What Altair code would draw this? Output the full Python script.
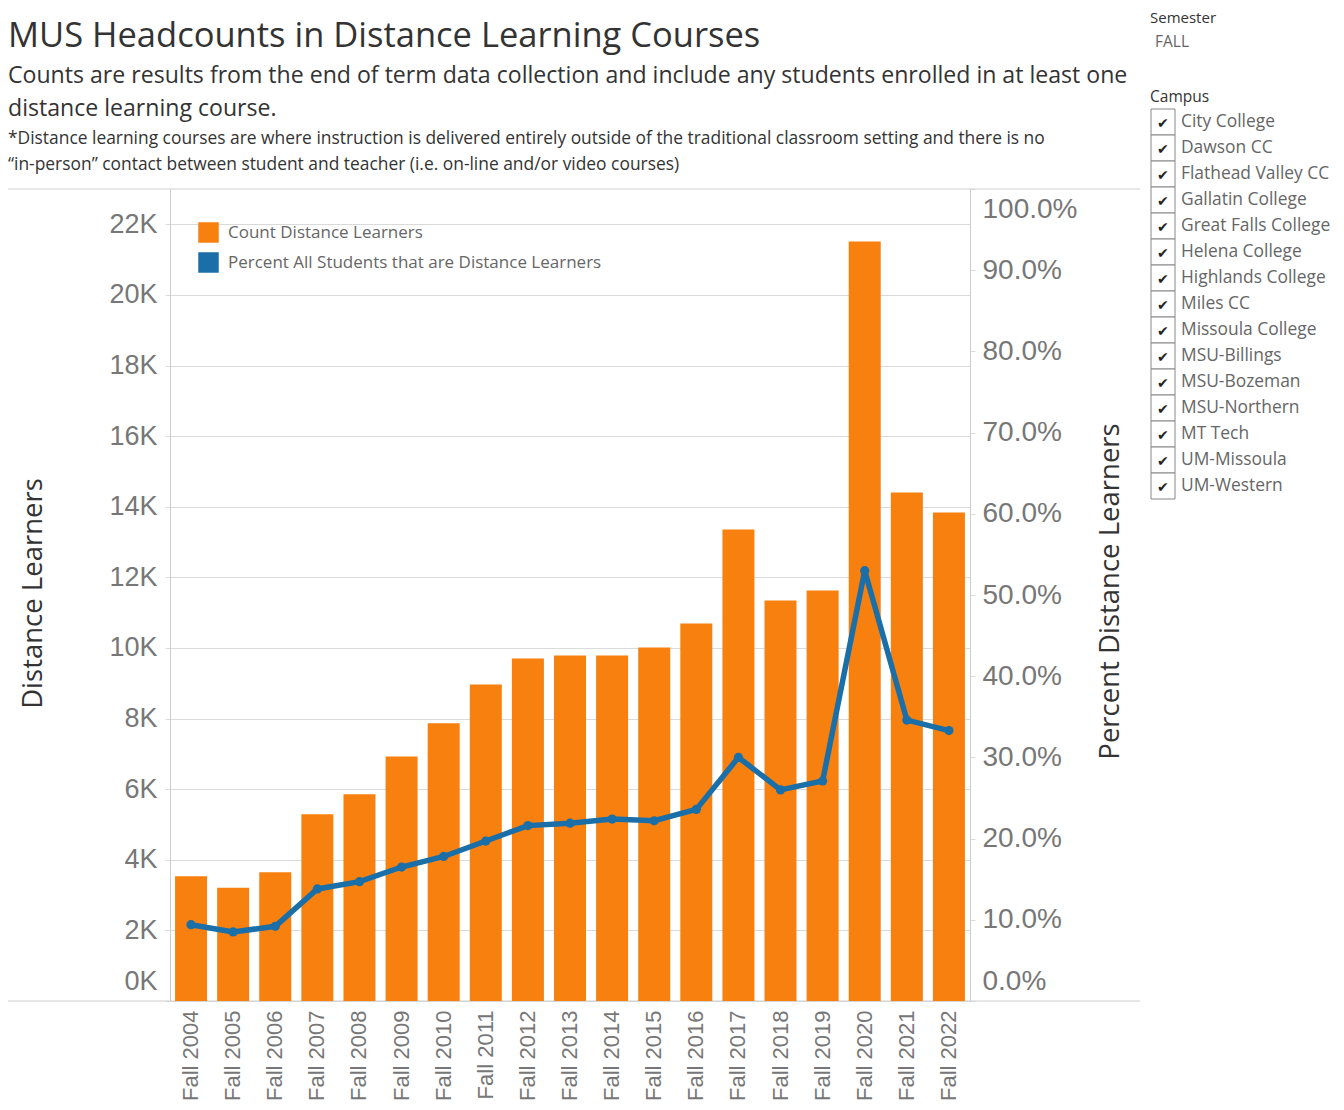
import altair as alt
import pandas as pd

# ---------------- data ----------------
semesters = ["Fall 2004", "Fall 2005", "Fall 2006", "Fall 2007", "Fall 2008", "Fall 2009",
             "Fall 2010", "Fall 2011", "Fall 2012", "Fall 2013", "Fall 2014", "Fall 2015",
             "Fall 2016", "Fall 2017", "Fall 2018", "Fall 2019", "Fall 2020", "Fall 2021",
             "Fall 2022"]
counts = [3535, 3207, 3649, 5292, 5858, 6926, 7870, 8966, 9703, 9788, 9788, 10014,
          10694, 13357, 11346, 11629, 21515, 14405, 13839]
percents = [0.094, 0.085, 0.092, 0.138, 0.147, 0.165, 0.178, 0.197, 0.216, 0.219, 0.224,
            0.222, 0.236, 0.300, 0.260, 0.271, 0.530, 0.346, 0.333]
series = ["Count Distance Learners", "Percent All Students that are Distance Learners"]
left_ticks = list(range(0, 22001, 2000))
right_ticks = [0.0, 0.1, 0.2, 0.3, 0.4, 0.5, 0.6, 0.7, 0.8, 0.9, 1.0]
campuses = ["City College", "Dawson CC", "Flathead Valley CC", "Gallatin College",
            "Great Falls College", "Helena College", "Highlands College", "Miles CC",
            "Missoula College", "MSU-Billings", "MSU-Bozeman", "MSU-Northern", "MT Tech",
            "UM-Missoula", "UM-Western"]

title_text = "MUS Headcounts in Distance Learning Courses"
subtitle_lines = ["Counts are results from the end of term data collection and include any students enrolled in at least one",
                  "distance learning course."]
note_lines = ["*Distance learning courses are where instruction is delivered entirely outside of the traditional classroom setting and there is no",
              "\u201cin-person\u201d contact between student and teacher (i.e. on-line and/or video courses)"]
semester_filter = ["Semester", "FALL"]
campus_label = "Campus"

# ---------------- style ----------------
ORANGE = "#F8800F"
BLUE = "#1A6FA8"
GRID = "#DADADA"
X0, Y0 = 170, 189          # page position of plot origin
W, H = 800, 812
TXT_FONT = "Open Sans"
TICK_FONT = "Liberation Sans"

df = pd.DataFrame({"Semester": semesters, "Count": counts, "Percent": percents})
base = alt.Chart(df)

x_enc = alt.X("Semester:N", sort=semesters, title=None,
              scale=alt.Scale(paddingInner=0.24, paddingOuter=0.12),
              axis=alt.Axis(labelAngle=270, labelFontSize=22, labelColor="#777",
                            labelFont=TICK_FONT, ticks=False, domain=False,
                            labelPadding=9, labelLimit=200))

bars = base.mark_bar(color=ORANGE).transform_calculate(
    Series=f"'{series[0]}'"
).encode(
    x=x_enc,
    y=alt.Y("Count:Q", scale=alt.Scale(domain=[0, 23000], nice=False),
            axis=alt.Axis(values=left_ticks, labelExpr="datum.value / 1000 + 'K'",
                          labelFontSize=27, labelFont=TICK_FONT, labelColor="#777",
                          labelPadding=8, tickSize=5, tickColor=GRID,
                          grid=True, gridColor=GRID, domainColor="#cccccc",
                          labelFlush=True, labelFlushOffset=-6,
                          title="Distance Learners", titleFont=TXT_FONT, titleFontSize=27.5,
                          titleFontWeight="normal", titleColor="#333",
                          titleAngle=270, titleAlign="center", titleBaseline="middle",
                          titleX=-137, titleY=H / 2 - 2)),
    color=alt.Color("Series:N",
                    scale=alt.Scale(domain=series, range=[ORANGE, BLUE]),
                    legend=alt.Legend(title=None, orient="none", legendX=28, legendY=33,
                                      symbolType="square", symbolSize=420,
                                      symbolStrokeWidth=0, labelFontSize=17,
                                      labelFont=TXT_FONT, labelColor="#666",
                                      labelOffset=9, rowPadding=9, padding=0,
                                      labelLimit=600)),
)

line = base.mark_line(color=BLUE, strokeWidth=5.5,
                      point=alt.OverlayMarkDef(color=BLUE, filled=True, size=85)).encode(
    x=alt.X("Semester:N", sort=semesters),
    y=alt.Y("Percent:Q", scale=alt.Scale(domain=[0, 1], nice=False),
            axis=alt.Axis(orient="right", values=right_ticks, format=".1%",
                          labelFontSize=28, labelFont=TICK_FONT, labelColor="#777",
                          labelPadding=7, tickSize=5, tickColor=GRID, grid=False,
                          domainColor="#cccccc", labelFlush=True, labelFlushOffset=-6,
                          title="Percent Distance Learners", titleFont=TXT_FONT,
                          titleFontSize=27.5, titleFontWeight="normal", titleColor="#333",
                          titleAngle=270, titleAlign="center", titleBaseline="middle",
                          titleX=140, titleY=H / 2 - 4)),
)


def txt(s, px, py, size, color="#333", font=TXT_FONT, weight="normal", baseline="alphabetic"):
    return alt.Chart(pd.DataFrame({"t": [s]})).mark_text(
        align="left", baseline=baseline, fontSize=size, color=color, font=font,
        fontWeight=weight).encode(text="t:N", x=alt.value(px - X0), y=alt.value(py - Y0))


def hrule(py, px1, px2, color="#cfcfcf"):
    return alt.Chart(pd.DataFrame({"a": [0]})).mark_rule(color=color, strokeWidth=1).encode(
        x=alt.value(px1 - X0), x2=alt.value(px2 - X0), y=alt.value(py - Y0))


def box(px1, py1, px2, py2):
    return alt.Chart(pd.DataFrame({"a": [0]})).mark_rect(
        fill="white", stroke="#888", strokeWidth=1).encode(
        x=alt.value(px1 - X0), x2=alt.value(px2 - X0),
        y=alt.value(py1 - Y0), y2=alt.value(py2 - Y0))


layers = [hrule(189, 0, 1140), hrule(1001, 0, 1140), bars, line]

layers.append(txt(title_text, 8, 47, 34.5))
layers.append(txt(subtitle_lines[0], 8, 83, 23.1))
layers.append(txt(subtitle_lines[1], 8, 116, 23.1))
layers.append(txt(note_lines[0], 8, 144, 17.4))
layers.append(txt(note_lines[1], 8, 170, 17.4))

layers.append(txt(semester_filter[0], 1150, 23, 15, color="#333"))
layers.append(txt(semester_filter[1], 1155, 47, 15.5, color="#666"))
layers.append(txt(campus_label, 1150, 102, 15.5, color="#333"))

for i, c in enumerate(campuses):
    top = 109 + 26 * i
    layers.append(box(1151, top, 1175, top + 26))
    layers.append(txt("\u2714", 1157, top + 19, 14, color="#222", font="DejaVu Sans"))
    layers.append(txt(c, 1181, top + 18, 17.4, color="#666"))

chart = alt.layer(*layers).resolve_scale(y="independent").properties(
    width=W, height=H,
    autosize=alt.AutoSizeParams(type="none"),
    padding={"left": X0 - 8, "top": Y0 - 8, "right": 364, "bottom": 100},
).configure_view(stroke=None).configure_axis(gridWidth=1)

chart.save("out.html", embed_options={"renderer": "svg", "actions": False})
